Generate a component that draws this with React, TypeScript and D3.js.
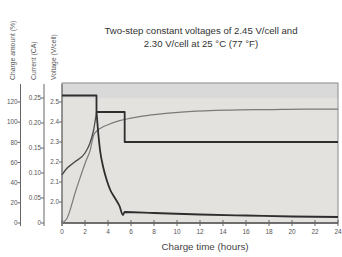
import React, { useRef, useEffect } from 'react';
import * as d3 from 'd3';

// tick values for the four axes
const hourTicks = [0, 2, 4, 6, 8, 10, 12, 14, 16, 18, 20, 22, 24];
const chargeTicks = [0, 20, 40, 60, 80, 100, 120];
const currentTicks = [0, 0.05, 0.1, 0.15, 0.2, 0.25];
const voltageTicks = [2.0, 2.1, 2.2, 2.3, 2.4, 2.5];

// current (CA): constant phase, then decay after switching to constant voltage
const currentFlatHours = [0, 3, 3];
const currentFlatValues = [0.255, 0.255, 0.222];
const currentDecayHours = [3, 3.15, 3.3, 3.6, 3.9, 4.2, 4.6, 5.0, 5.3, 5.45, 8, 12, 16, 20, 24];
const currentDecayValues = [0.222, 0.18, 0.147, 0.11, 0.085, 0.066, 0.05, 0.034, 0.016, 0.022, 0.02, 0.017, 0.015, 0.013, 0.012];

// voltage (V/cell): rising during constant current, then two constant levels
const voltRiseHours = [0, 0.3, 1.1, 2.0, 2.4, 2.75, 3.0];
const voltRiseValues = [2.135, 2.16, 2.2, 2.245, 2.29, 2.36, 2.45];
const voltHoldHours = [3.0, 5.45, 5.45, 24];
const voltHoldValues = [2.45, 2.45, 2.3, 2.3];

// charge amount (%)
const chargeHours = [0, 0.4, 1.2, 2.1, 2.45, 2.75, 3.1, 3.5, 4.0, 5.0, 6.0, 7.0, 8.8, 11, 14.6, 18, 21, 24];
const chargeValues = [0, 4, 32, 62, 72, 87, 92, 95, 97.5, 101.5, 104, 106, 108.5, 110.5, 112, 112.5, 113, 113];

const titleLines = ['Two-step constant voltages of 2.45 V/cell and', '2.30 V/cell at 25 °C (77 °F)'];

const App = () => {
  const svgRef = useRef<SVGSVGElement>(null);

  useEffect(() => {
    const svg = d3.select(svgRef.current);
    svg.selectAll('*').remove();

    const font = 'Liberation Sans, Arial, sans-serif';
    const plot = { left: 62, right: 338, top: 83, bottom: 223 };

    const x = d3.scaleLinear().domain([0, 24]).range([plot.left, plot.right]);
    const yCharge = d3.scaleLinear().domain([0, 120]).range([223, 102]);
    const yCurrent = d3.scaleLinear().domain([0, 0.25]).range([223, 98]);
    const yVolt = d3.scaleLinear().domain([2.0, 2.5]).range([202, 102]);

    // plot background
    svg.append('rect')
      .attr('x', plot.left).attr('y', plot.top)
      .attr('width', plot.right - plot.left).attr('height', plot.bottom - plot.top)
      .attr('fill', '#e4e2df');
    svg.append('rect')
      .attr('x', plot.left).attr('y', plot.top)
      .attr('width', plot.right - plot.left).attr('height', 15)
      .attr('fill', '#d9d9d9');
    svg.append('rect')
      .attr('x', plot.left).attr('y', plot.top)
      .attr('width', plot.right - plot.left).attr('height', plot.bottom - plot.top)
      .attr('fill', 'none').attr('stroke', '#8a8a8a').attr('stroke-width', 1);

    // title
    titleLines.forEach((t, i) => {
      svg.append('text')
        .attr('x', 201).attr('y', 34 + i * 13)
        .attr('text-anchor', 'middle')
        .style('font-family', font).style('font-size', '9.6px')
        .attr('fill', '#333')
        .text(t);
    });

    // x axis
    const xAxis = svg.append('g').attr('transform', `translate(0,${plot.bottom})`);
    xAxis.append('line').attr('x1', plot.left).attr('x2', plot.right)
      .attr('stroke', '#555').attr('stroke-width', 1.5);
    hourTicks.forEach(h => {
      xAxis.append('line').attr('x1', x(h)).attr('x2', x(h)).attr('y1', -3).attr('y2', 3)
        .attr('stroke', '#666');
      xAxis.append('text').attr('x', x(h)).attr('y', 11)
        .attr('text-anchor', 'middle')
        .style('font-family', font).style('font-size', '6.5px')
        .attr('fill', '#555')
        .text(h);
    });
    svg.append('text')
      .attr('x', 205).attr('y', 250)
      .attr('text-anchor', 'middle')
      .style('font-family', font).style('font-size', '9.8px')
      .attr('fill', '#444')
      .text('Charge time (hours)');

    // left axes
    const leftAxis = (axisX: number, titleX: number, scale: d3.ScaleLinear<number, number>, ticks: number[], fmt: (v: number) => string, title: string) => {
      const g = svg.append('g');
      g.append('line').attr('x1', axisX).attr('x2', axisX).attr('y1', 84).attr('y2', 226)
        .attr('stroke', '#666').attr('stroke-width', 1);
      ticks.forEach(v => {
        g.append('line').attr('x1', axisX - 3).attr('x2', axisX).attr('y1', scale(v)).attr('y2', scale(v))
          .attr('stroke', '#666');
        g.append('text').attr('x', axisX - 3).attr('y', scale(v) + 2.2)
          .attr('text-anchor', 'end')
          .style('font-family', font).style('font-size', '6.3px')
          .attr('fill', '#555')
          .text(fmt(v));
      });
      g.append('text')
        .attr('transform', `translate(${titleX},80) rotate(-90)`)
        .attr('text-anchor', 'start')
        .style('font-family', font).style('font-size', '6.8px')
        .attr('fill', '#555')
        .text(title);
    };
    leftAxis(20.5, 14.5, yCharge, chargeTicks, v => String(v), 'Charge amount (%)');
    leftAxis(44, 35.5, yCurrent, currentTicks, v => (v === 0 ? '0' : v.toFixed(2)), 'Current (CA)');
    leftAxis(62, 56, yVolt, voltageTicks, v => v.toFixed(1), 'Voltage (V/cell)');

    // series
    const draw = (hours: number[], values: number[], scale: d3.ScaleLinear<number, number>, curve: d3.CurveFactory, color: string, width: number) => {
      const line = d3.line<number>()
        .x((_, i) => x(hours[i]))
        .y(v => scale(v))
        .curve(curve);
      svg.append('path')
        .attr('d', line(values))
        .attr('fill', 'none')
        .attr('stroke', color)
        .attr('stroke-width', width)
        .attr('stroke-linejoin', 'round');
    };
    draw(chargeHours, chargeValues, yCharge, d3.curveMonotoneX, '#7a7a7a', 1.2);
    draw(voltRiseHours, voltRiseValues, yVolt, d3.curveMonotoneX, '#4a4a4a', 1.3);
    draw(voltHoldHours, voltHoldValues, yVolt, d3.curveLinear, '#2e2e2e', 1.8);
    draw(currentFlatHours, currentFlatValues, yCurrent, d3.curveLinear, '#2e2e2e', 1.8);
    draw(currentDecayHours, currentDecayValues, yCurrent, d3.curveMonotoneX, '#2e2e2e', 1.8);
  }, []);

  return (
    <svg ref={svgRef} width={342} height={257}
      style={{ position: 'absolute', left: 0, top: 0, background: '#fff' }} />
  );
};

export default App;
